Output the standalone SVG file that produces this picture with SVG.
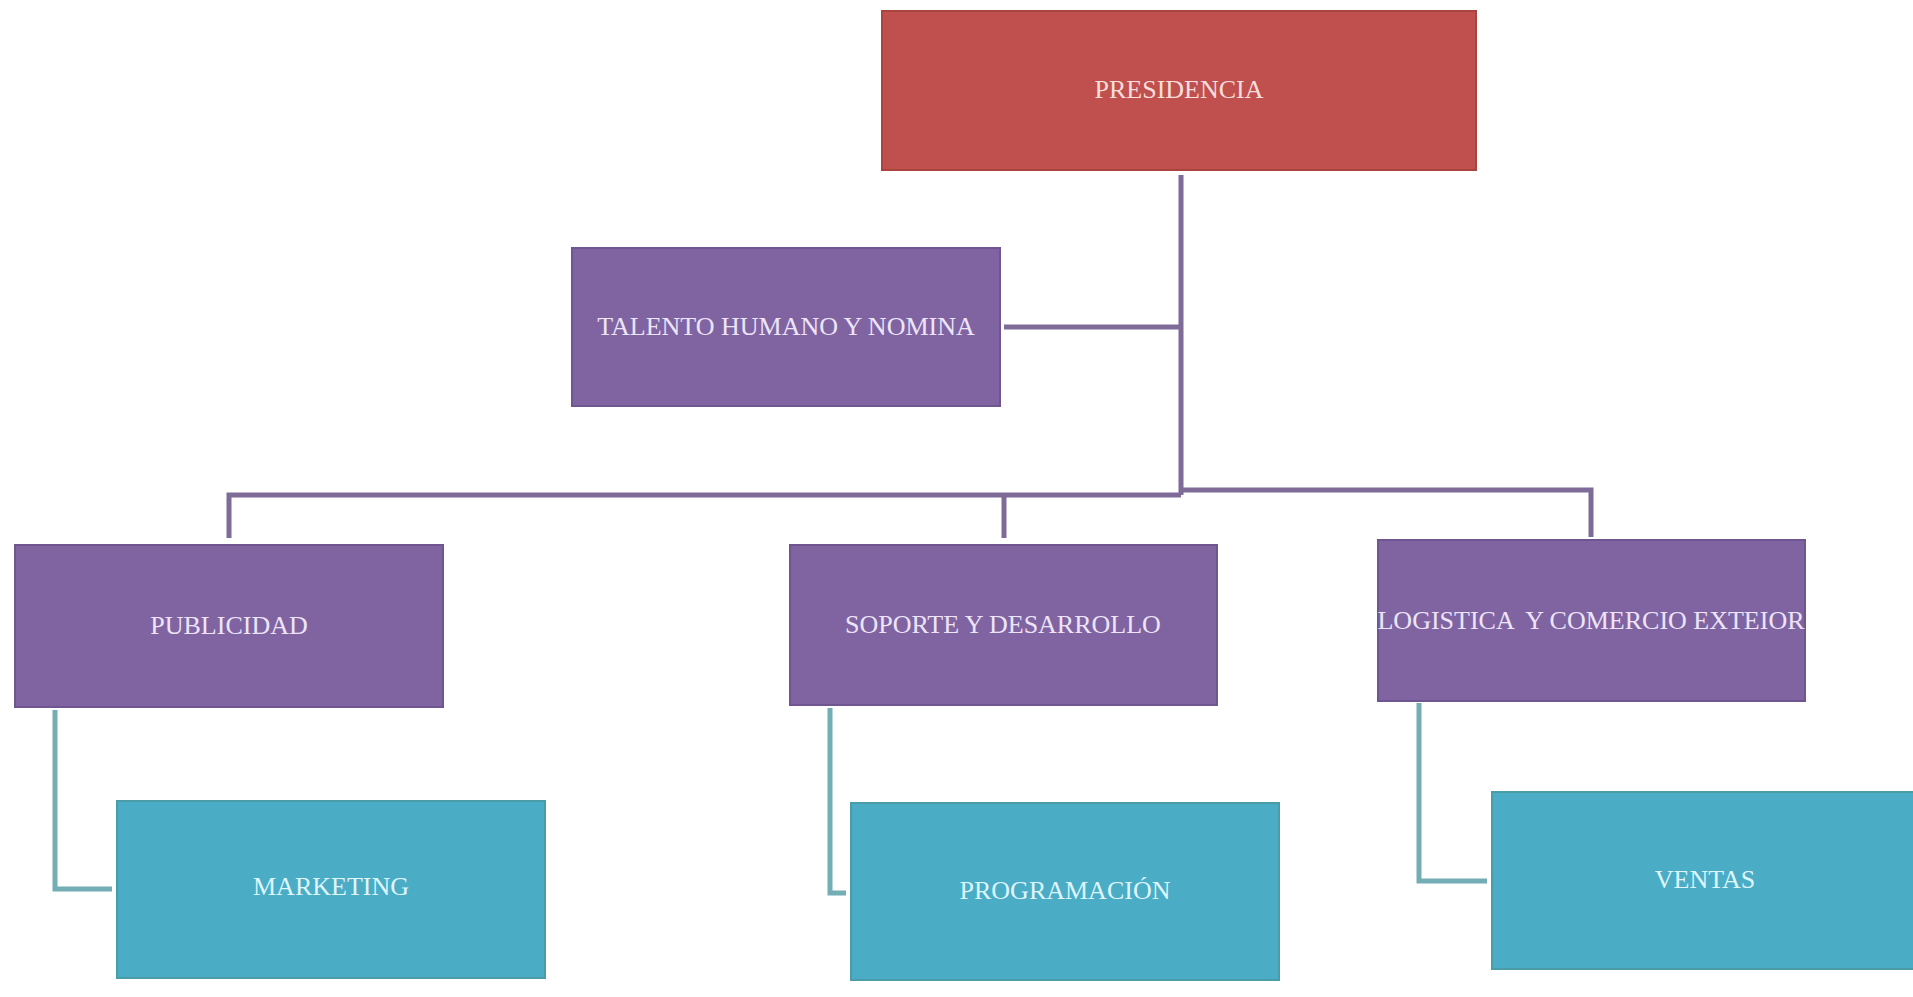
<svg xmlns="http://www.w3.org/2000/svg" width="1913" height="997" viewBox="0 0 1913 997">
<style>
.lbl{font-family:"Liberation Serif","Times New Roman",serif;font-size:26px;text-anchor:middle}
.red{fill:#C0504D;stroke:#A9443F;stroke-width:2}
.pur{fill:#8064A2;stroke:#6F5690;stroke-width:2}
.teal{fill:#4BACC6;stroke:#4A9DA8;stroke-width:2}
.tr{fill:#F7DEDD}
.tp{fill:#EDE4F8}
.tt{fill:#DDF6FC}
.cp{fill:none;stroke:#7E6B98;stroke-width:5}
.ct{fill:none;stroke:#72AEB4;stroke-width:5}
</style>
<rect width="1913" height="997" fill="#FFFFFF"/>
<g id="connectors">
<path class="cp" d="M1181,175 V495"/>
<path class="cp" d="M1004,327 H1181"/>
<path class="cp" d="M229,538 V495 H1181"/>
<path class="cp" d="M1004,495 V538"/>
<path class="cp" d="M1181,490 H1591 V537"/>
<path class="ct" d="M55,710 V889 H112"/>
<path class="ct" d="M830,708 V893 H846"/>
<path class="ct" d="M1419,703 V881 H1487"/>
</g>
<g id="presidencia">
<rect class="red" x="882" y="11" width="594" height="159"/>
<text class="lbl tr" x="1179" y="98">PRESIDENCIA</text>
</g>
<g id="talento">
<rect class="pur" x="572" y="248" width="428" height="158"/>
<text class="lbl tp" x="786" y="335">TALENTO HUMANO Y NOMINA</text>
</g>
<g id="publicidad">
<rect class="pur" x="15" y="545" width="428" height="162"/>
<text class="lbl tp" x="229" y="634">PUBLICIDAD</text>
</g>
<g id="soporte">
<rect class="pur" x="790" y="545" width="427" height="160"/>
<text class="lbl tp" x="1003" y="633">SOPORTE Y DESARROLLO</text>
</g>
<g id="logistica">
<rect class="pur" x="1378" y="540" width="427" height="161"/>
<text class="lbl tp" x="1591" y="629" xml:space="preserve">LOGISTICA  Y COMERCIO EXTEIOR</text>
</g>
<g id="marketing">
<rect class="teal" x="117" y="801" width="428" height="177"/>
<text class="lbl tt" x="331" y="895">MARKETING</text>
</g>
<g id="programacion">
<rect class="teal" x="851" y="803" width="428" height="177"/>
<text class="lbl tt" x="1065" y="899">PROGRAMACIÓN</text>
</g>
<g id="ventas">
<rect class="teal" x="1492" y="792" width="428" height="177"/>
<text class="lbl tt" x="1705" y="888">VENTAS</text>
</g>
</svg>
